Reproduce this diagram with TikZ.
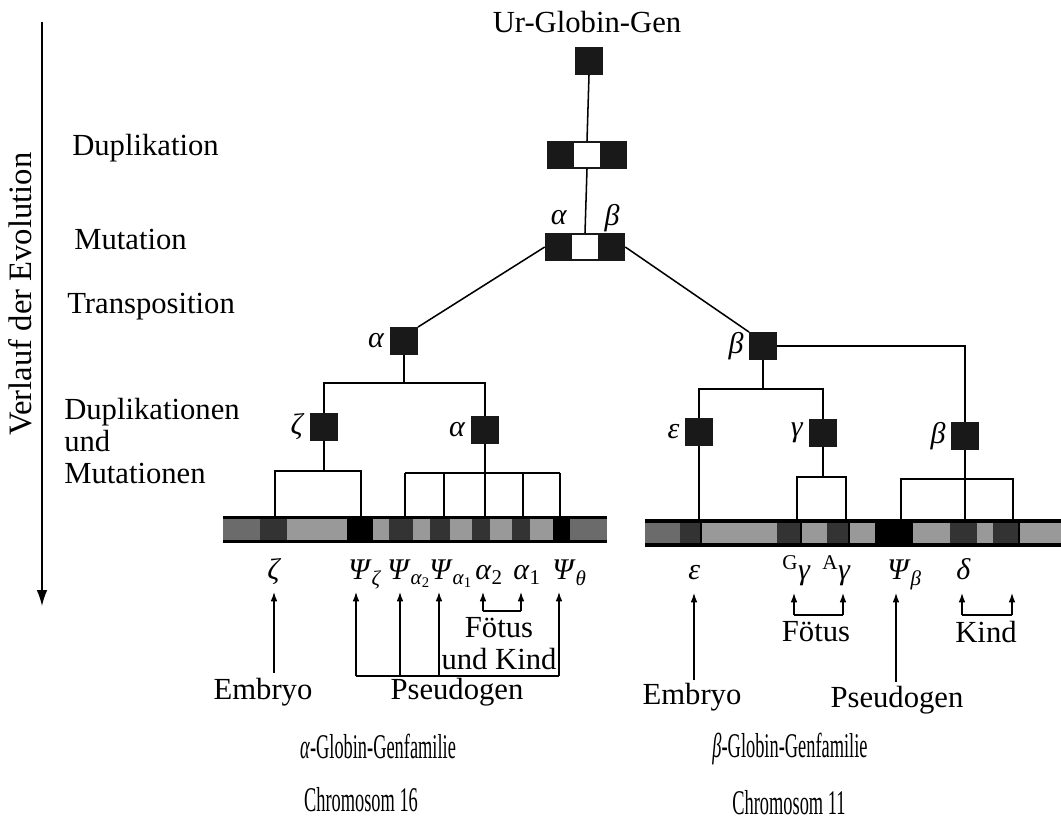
\documentclass[tikz,border=0pt]{standalone}
\usepackage{fontspec}
\setmainfont{Liberation Serif}
\newfontfamily\narrowfont[FakeStretch=0.53]{Liberation Serif}
\usetikzlibrary{arrows.meta,calc}

\colorlet{segmid}{black!58}
\colorlet{segdark}{black!80}
\colorlet{seglight}{black!40}

% italic Greek symbol with optional subscript
\newcommand{\gk}[1]{\textit{#1}}
\newcommand{\gks}[2]{\textit{#1}\textsubscript{#2}}

\begin{document}
\begin{tikzpicture}[x=0.75pt,y=-0.75pt,
  gene/.style={draw=none,fill=black!90,inner sep=0pt,minimum size=20.5pt},
  pairbox/.style={draw=none,fill=black!90,inner sep=0pt,minimum width=60pt,minimum height=20.5pt,
    path picture={\fill[white]
      ($(path picture bounding box.south west)!0.335!(path picture bounding box.south east)+(0,1.2pt)$)
      rectangle
      ($(path picture bounding box.north west)!0.665!(path picture bounding box.north east)+(0,-1.2pt)$);}},
  chrom/.style={draw=none,fill=black,inner sep=0pt,minimum height=20.5pt},
  txt/.style={font=\fontsize{23}{24}\selectfont,inner sep=0pt},
  narrow/.style={font=\narrowfont\fontsize{26}{24}\selectfont,inner sep=0pt},
  greek/.style={font=\fontsize{22.5}{22}\selectfont,inner sep=0pt},
  wire/.style={line width=1.15pt},
  thin/.style={line width=0.9pt},
  up/.style={line width=0.9pt,-{Latex[length=7pt,width=5pt]}}
]
\useasboundingbox[fill=white] (0,0) rectangle (1061,823);

% time axis
\coordinate (axtop) at (42,22);
\coordinate (axbot) at (42,606);
\draw[line width=1.1pt,-{Latex[length=12pt,width=8pt]}] (axtop) -- (axbot);
\node[txt,font=\fontsize{24.5}{24}\selectfont,rotate=90] (axis) at (20,294) {Verlauf der Evolution};

% stage labels
\node[txt,anchor=west] (s1) at (72,148) {Duplikation};
\node[txt,anchor=west] (s2) at (74,240) {Mutation};
\node[txt,anchor=west] (s3) at (67,307) {Transposition};
\node[txt,anchor=west,align=left] (s4) at (64,441) {Duplikationen\\und\\Mutationen};

% ancestral genes
\node[txt] (title) at (587,22) {Ur-Globin-Gen};
\node[gene] (ur) at (589,61) {};
\node[pairbox] (dup) at (587,155) {};
\node[pairbox] (mut) at (585,247) {};
\node[greek] (mutA) at (559,218) {\gk{α}};
\node[greek] (mutB) at (612,218) {\gk{β}};

\node[gene,label={[greek,label distance=4pt]left:\gk{α}}] (a) at (404,341) {};
\node[gene,label={[greek,label distance=4pt]left:\gk{β}}] (b) at (763,346) {};
\node[gene,label={[greek,label distance=4pt]left:\gk{ζ}}] (z) at (324,427) {};
\node[gene,label={[greek,label distance=4pt]left:\gk{α}}] (a2) at (485,430) {};
\node[gene,label={[greek,label distance=4pt]left:\gk{ε}}] (e) at (699,432) {};
\node[gene,label={[greek,label distance=4pt]left:\gk{γ}}] (g) at (823,433) {};
\node[gene,label={[greek,label distance=4pt]left:\gk{β}}] (b2) at (965,436) {};

\draw[wire] (ur.south) -- (dup.north);
\draw[wire] (dup.south) -- (mut.north);
\draw[wire] (mut.west) -- (a.north east);
\draw[wire] (mut.east) -- (b.north west);

% alpha branch
\draw[wire] (a.south) -- (a.south |- 0,383);
\draw[wire] (z.north) |- (a2.north |- 0,383) -- (a2.north);
% beta branch
\draw[wire] (b.east) -| (b2.north);
\draw[wire] (b.south) -- (b.south |- 0,389);
\draw[wire] (e.north) |- (g.north |- 0,389) -- (g.north);

% chromosome 16 segment
\node[chrom,minimum width=288pt] (lbar) at (415,529.5) {};
\foreach \l/\r/\c in {223/260/segmid,260/287/segdark,287/347/seglight,373/389/seglight,
    389/413/segdark,413/430/seglight,430/450/segdark,450/472/seglight,472/490/segdark,
    490/512/seglight,512/530/segdark,530/553/seglight,570/607/segmid}
  \fill[\c] (\l,519) rectangle (\r,540);

% chromosome 11 segment
\node[chrom,minimum width=312pt] (rbar) at (853,533) {};
\foreach \l/\r/\c in {645/680/segmid,680/700/segdark,702/777/seglight,777/800/segdark,
    802/827/seglight,827/848/segdark,850/875/seglight,913/950/seglight,950/977/segdark,
    977/993/seglight,993/1018/segdark,1020/1061/seglight}
  \fill[\c] (\l,523) rectangle (\r,543);

% links down to the gene clusters
\draw[wire] (z.south) -- (z.south |- 0,471);
\draw[wire] (lbar.north -| 275,0) |- (361,471) -- (lbar.north -| 361,0);
\draw[wire] (a2.south) -- (a2.south |- 0,473);
\draw[wire] (405,473) -- (560,473);
\foreach \x in {405,444,485,523,560}
  \draw[wire] (\x,473) -- (lbar.north -| \x,0);

\draw[wire] (e.south) -- (rbar.north -| e.south);
\draw[wire] (g.south) -- (g.south |- 0,477);
\draw[wire] (rbar.north -| 797,0) |- (846,477) -- (rbar.north -| 846,0);
\draw[wire] (b2.south) -- (rbar.north -| b2.south);
\draw[wire] (rbar.north -| 901,0) |- (1013,479) -- (rbar.north -| 1013,0);

% gene names, chromosome 16
\node[greek,anchor=base west] (gz)   at (267,580) {\gk{ζ}};
\node[greek,anchor=base west] (gpz)  at (348,580) {\gks{Ψ}{\gk{ζ}}};
\node[greek,anchor=base west] (gpa2) at (387,580) {\gks{Ψ}{\gks{α}{2}}};
\node[greek,anchor=base west] (gpa1) at (429,580) {\gks{Ψ}{\gks{α}{1}}};
\node[greek,anchor=base west] (ga2)  at (475,580) {\gks{α}{2}};
\node[greek,anchor=base west] (ga1)  at (513,580) {\gks{α}{1}};
\node[greek,anchor=base west] (gpt)  at (552,580) {\gks{Ψ}{\gk{θ}}};

% gene names, chromosome 11
\node[greek,anchor=base west] (ge)  at (688,580) {\gk{ε}};
\node[greek,anchor=base west] (ggg) at (782,580) {\textsuperscript{G}\gk{γ}};
\node[greek,anchor=base west] (gag) at (822,580) {\textsuperscript{A}\gk{γ}};
\node[greek,anchor=base west] (gpb) at (887,580) {\gks{Ψ}{\gk{β}}};
\node[greek,anchor=base west] (gd)  at (956,580) {\gk{δ}};

\coordinate (tipL) at (0,592);
\coordinate (tipR) at (0,593);

% expression labels, chromosome 16
\node[txt] (emb1) at (263,692) {Embryo};
\node[txt] (ps1) at (457,692) {Pseudogen};
\node[txt,align=center] (fk1) at (499,644) {Fötus\\und Kind};
\draw[up] (274,673) -- (tipL -| 274,0);
\draw[thin] (356,676) -- (559,676);
\foreach \x in {356,400,439,559}
  \draw[up] (\x,676) -- (tipL -| \x,0);
\draw[thin] (483,611) -- (521,611);
\foreach \x in {483,521}
  \draw[up] (\x,611) -- (tipL -| \x,0);

% expression labels, chromosome 11
\node[txt] (emb2) at (692,697) {Embryo};
\node[txt] (ps2) at (897,700) {Pseudogen};
\node[txt] (f2) at (816,632) {Fötus};
\node[txt] (k2) at (986,632) {Kind};
\draw[up] (694,680) -- (tipR -| 694,0);
\draw[up] (896,682) -- (tipR -| 896,0);
\draw[thin] (794,615) -- (843,615);
\foreach \x in {794,843}
  \draw[up] (\x,615) -- (tipR -| \x,0);
\draw[thin] (962,615) -- (1012,615);
\foreach \x in {962,1012}
  \draw[up] (\x,615) -- (tipR -| \x,0);

% family captions
\node[narrow] (famA) at (378,746) {\gk{α}-Globin-Genfamilie};
\node[narrow] (famB) at (790,749) {\gk{β}-Globin-Genfamilie};
\node[narrow] (chrA) at (361,800) {Chromosom 16};
\node[narrow] (chrB) at (789,803) {Chromosom 11};
\end{tikzpicture}
\end{document}
